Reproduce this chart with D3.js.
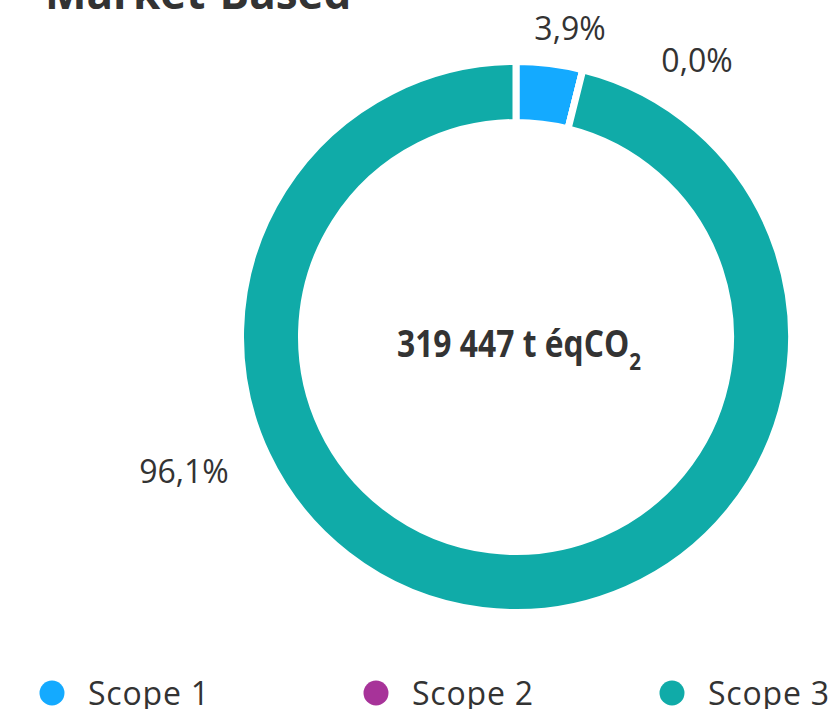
<!DOCTYPE html>
<html>
<head>
<meta charset="utf-8">
<script src="https://cdn.jsdelivr.net/npm/d3@7"></script>
<style>
  html, body { margin: 0; padding: 0; background: #fff; }
  svg { display: block; }
  text { font-family: "Open Sans", sans-serif; fill: #333; }
</style>
</head>
<body>
<svg id="chart" width="831" height="709"></svg>
<script>
const title = "Market-Based";
const categories = ["Scope 1", "Scope 2", "Scope 3"];
const values = [3.9, 0.0, 96.1];
const valueLabels = ["3,9%", "0,0%", "96,1%"];
const colors = ["#14aaff", "#a73399", "#10aba8"];
const totalLabel = "319 447 t éqCO";

const svg = d3.select("#chart");
const cx = 516, cy = 337, outerR = 275.5, innerR = 214.5;

svg.append("text")
  .attr("x", 45).attr("y", 9)
  .attr("font-size", 44).attr("font-weight", 700)
  .text(title);

const pie = d3.pie().sort(null).value(d => d)(values);
const arc = d3.arc().innerRadius(innerR).outerRadius(outerR);

const g = svg.append("g").attr("transform", `translate(${cx},${cy})`);
g.selectAll("path").data(pie).join("path")
  .attr("d", arc)
  .attr("fill", (d, i) => colors[i])
  .attr("stroke", "#fff")
  .attr("stroke-width", 7)
  .attr("stroke-linejoin", "miter");

// value labels
const labelPos = [[570, 40], [697, 72], [184, 483]];
svg.selectAll("text.val").data(valueLabels).join("text")
  .attr("class", "val")
  .attr("x", (d, i) => labelPos[i][0])
  .attr("y", (d, i) => labelPos[i][1])
  .attr("text-anchor", "middle")
  .attr("font-size", 32)
  .text(d => d);

// center label
const cg = svg.append("g").attr("transform", `translate(${cx + 3},357) scale(0.86,1)`);
const ct = cg.append("text")
  .attr("x", 0).attr("y", 0)
  .attr("text-anchor", "middle")
  .attr("font-size", 37).attr("font-weight", 700);
ct.append("tspan").text(totalLabel);
ct.append("tspan").attr("font-size", 24).attr("dy", 13).text("2");

// legend
const legX = [52, 376, 672];
const leg = svg.selectAll("g.leg").data(categories).join("g")
  .attr("class", "leg")
  .attr("transform", (d, i) => `translate(${legX[i]},693)`);
leg.append("circle").attr("r", 12.5).attr("fill", (d, i) => colors[i]);
leg.append("text").attr("x", 36).attr("y", 12).attr("font-size", 32)
  .attr("letter-spacing", 0.8).text(d => d);
</script>
</body>
</html>
